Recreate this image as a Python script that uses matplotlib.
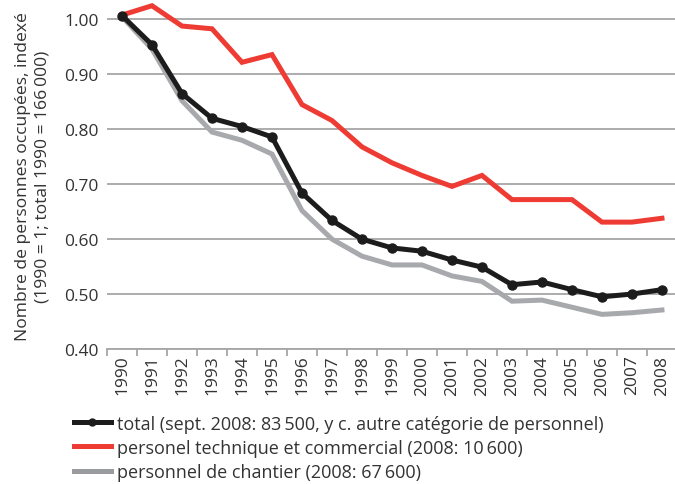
import matplotlib
matplotlib.use("Agg")
import matplotlib.pyplot as plt
import numpy as np

plt.rcParams["font.family"] = ["Open Sans", "DejaVu Sans"]

years = [str(y) for y in range(1990, 2009)]

total = [1.007, 0.954, 0.865, 0.820, 0.805, 0.786, 0.684, 0.634, 0.600, 0.584,
         0.578, 0.562, 0.549, 0.517, 0.522, 0.508, 0.495, 0.500, 0.508]
technique = [1.008, 1.025, 0.988, 0.983, 0.922, 0.936, 0.845, 0.816, 0.768, 0.739,
             0.716, 0.696, 0.716, 0.672, 0.672, 0.672, 0.631, 0.631, 0.638]
chantier = [1.005, 0.946, 0.852, 0.795, 0.780, 0.755, 0.652, 0.600, 0.569, 0.553,
            0.553, 0.533, 0.523, 0.487, 0.489, 0.476, 0.463, 0.466, 0.471]

labels = [
    "total (sept. 2008: 83\u2009500, y c. autre catégorie de personnel)",
    "personel technique et commercial (2008: 10\u2009600)",
    "personnel de chantier (2008: 67\u2009600)",
]
yticks = [0.40, 0.50, 0.60, 0.70, 0.80, 0.90, 1.00]

RED = "#ee3b33"
BLACK = "#1c1c1c"
GRAY = "#a7a9ac"
GRID = "#a6a6a6"
TXT = "#333333"

fig = plt.figure(figsize=(6.75, 4.85), dpi=100)
ax = fig.add_axes([0.1585, 0.2784, 0.8444, 0.7134])

x = np.arange(len(years))
l_gray, = ax.plot(x, chantier, color=GRAY, lw=3.6, solid_joinstyle="miter",
                  label=labels[2], clip_on=False, zorder=3)
l_red, = ax.plot(x, technique, color=RED, lw=3.6, solid_joinstyle="miter",
                 label=labels[1], clip_on=False, zorder=4)
l_blk, = ax.plot(x, total, color=BLACK, lw=3.6, marker="o", ms=6.5,
                 solid_joinstyle="miter", label=labels[0], clip_on=False, zorder=5)

ax.set_xlim(-0.5, len(years) - 0.5)
ax.set_ylim(0.40, 1.03)
ax.set_yticks(yticks)
ax.set_yticklabels([f"{v:.2f}" for v in yticks], fontsize=12.5, color=TXT)
ax.yaxis.grid(True, color=GRID, lw=1.3)
ax.set_axisbelow(True)
ax.tick_params(axis="y", length=0, pad=6)

ax.set_xticks(x)
ax.set_xticklabels(years, rotation=90, fontsize=12.5, color=TXT)
ax.set_xticks(np.arange(-0.5, len(years)), minor=True)
ax.tick_params(axis="x", which="major", length=0, pad=4)
ax.tick_params(axis="x", which="minor", length=5, width=1.3, color=GRID)

for side in ("top", "right", "left"):
    ax.spines[side].set_visible(False)
ax.spines["bottom"].set_color(GRID)
ax.spines["bottom"].set_linewidth(1.3)

ax.set_ylabel("Nombre de personnes occupées, indexé\n(1990 = 1; total 1990 = 166\u2009000)",
              fontsize=12.6, color=TXT, labelpad=10, linespacing=1.3)

leg = fig.legend(handles=[l_blk, l_red, l_gray], labels=labels,
                 loc="upper left", bbox_to_anchor=(0.1096, 0.143),
                 frameon=False, fontsize=13, handlelength=2.05,
                 handletextpad=0.35, labelspacing=0.34, borderpad=0,
                 borderaxespad=0)
for t in leg.get_texts():
    t.set_color(TXT)
for h in leg.legend_handles:
    h.set_markersize(5)
leg.legend_handles[2].set_color("#9a9b9e")

fig.savefig("out.png", dpi=100)
